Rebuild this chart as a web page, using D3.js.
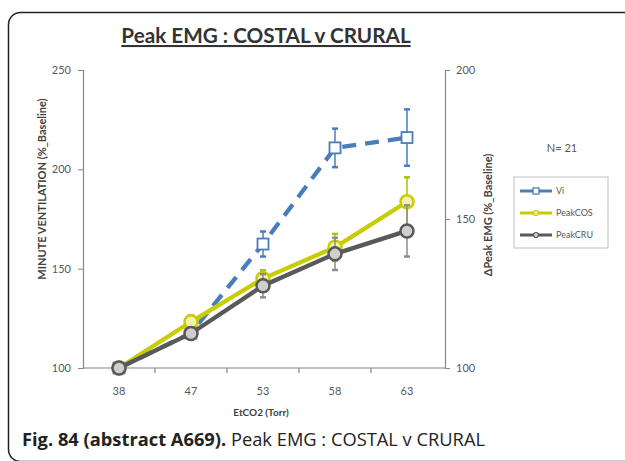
<!DOCTYPE html>
<html>
<head>
<meta charset="utf-8">
<script src="https://cdn.jsdelivr.net/npm/d3@7"></script>
<style>
  body { margin: 0; background: #fff; }
  svg { display: block; }
</style>
</head>
<body>
<svg width="625" height="461"></svg>
<script>
var categories = ['38', '47', '53', '58', '63'];

// minute ventilation, left axis
var viValues = [100, 117.6, 162.4, 210.8, 216];
var viErrors = [0, 3, 6.3, 9.7, 14.2];

// peak EMG, right axis
var cosValues = [100, 115.5, 130, 140.5, 155.8];
var cosErrors = [0, 2.2, 2.8, 4.5, 8.2];
var cruValues = [100, 111.6, 127.6, 138.3, 146];
var cruErrors = [0, 2, 3.9, 5.4, 8.6];

var leftTicks = [100, 150, 200, 250];
var rightTicks = [100, 150, 200];

var svg = d3.select('svg'),
    width = +svg.attr('width'),
    height = +svg.attr('height');

var axisColor = '#868686',
    labelColor = '#595959',
    chartFont = 'Lato, sans-serif';

// outer frame, right and bottom run off the picture
svg.append('rect')
    .attr('x', 8.5).attr('y', 12.5)
    .attr('width', 640).attr('height', 449)
    .attr('rx', 12)
    .attr('fill', 'none')
    .attr('stroke', '#222')
    .attr('stroke-width', 1.5);

var x = d3.scalePoint().domain(categories).range([83, 443]).padding(0.5);
var yLeft = d3.scaleLinear().domain([100, 250]).range([368, 70]);
var yRight = d3.scaleLinear().domain([100, 200]).range([368, 70]);

// title
svg.append('text')
    .attr('x', 266).attr('y', 43)
    .attr('text-anchor', 'middle')
    .attr('font-family', chartFont)
    .attr('font-weight', 'bold')
    .attr('font-size', 20.7)
    .attr('fill', '#333')
    .attr('text-decoration', 'underline')
    .text('Peak EMG : COSTAL v CRURAL');

// left axis
var leftAxis = svg.append('g')
    .attr('transform', 'translate(83,0)')
    .call(d3.axisLeft(yLeft).tickValues(leftTicks).tickSize(5).tickPadding(7));

// right axis
var rightAxis = svg.append('g')
    .attr('transform', 'translate(445,0)')
    .call(d3.axisRight(yRight).tickValues(rightTicks).tickSize(5).tickPadding(6));

// bottom axis: line, tick marks between categories, labels at centres
var bottom = svg.append('g').attr('class', 'xaxis');
bottom.append('line')
    .attr('x1', 83).attr('x2', 445)
    .attr('y1', yLeft(100)).attr('y2', yLeft(100));
var step = x.step();
bottom.selectAll('line.tick')
    .data(categories.slice(1))
    .enter().append('line')
        .attr('class', 'tick')
        .attr('x1', (d) => x(d) - step / 2)
        .attr('x2', (d) => x(d) - step / 2)
        .attr('y1', yLeft(100)).attr('y2', yLeft(100) + 5);
bottom.selectAll('text')
    .data(categories)
    .enter().append('text')
        .attr('x', (d) => x(d))
        .attr('y', yLeft(100) + 27)
        .attr('text-anchor', 'middle')
        .text((d) => d);

[leftAxis, rightAxis].forEach(function (g) {
    g.select('.domain').attr('stroke', axisColor).attr('stroke-width', 1.2);
    g.selectAll('.tick line').attr('stroke', axisColor);
    g.selectAll('.tick text')
        .attr('font-family', chartFont)
        .attr('font-size', 11)
        .attr('fill', labelColor);
});
bottom.selectAll('line').attr('stroke', axisColor).attr('stroke-width', 1.2);
bottom.selectAll('text')
    .attr('font-family', chartFont)
    .attr('font-size', 11)
    .attr('fill', labelColor);

// axis titles
svg.append('text')
    .attr('transform', 'translate(46,189) rotate(-90)')
    .attr('text-anchor', 'middle')
    .attr('font-family', chartFont)
    .attr('font-weight', 'bold')
    .attr('font-size', 11)
    .attr('fill', '#404040')
    .text('MINUTE VENTILATION (%_Baseline)');

svg.append('text')
    .attr('transform', 'translate(492,215) rotate(-90)')
    .attr('text-anchor', 'middle')
    .attr('font-family', chartFont)
    .attr('font-weight', 'bold')
    .attr('font-size', 11)
    .attr('fill', '#404040')
    .text('ΔPeak EMG (%_Baseline)');

svg.append('text')
    .attr('x', 261).attr('y', 416)
    .attr('text-anchor', 'middle')
    .attr('font-family', chartFont)
    .attr('font-weight', 'bold')
    .attr('font-size', 10)
    .attr('fill', '#404040')
    .text('EtCO2 (Torr)');

// series
var series = [
    { name: 'Vi', values: viValues, errors: viErrors, y: yLeft,
      color: '#4a7ebb', err: '#4a7ebb', fill: '#fff', marker: 'square', dash: '14,9' },
    { name: 'PeakCOS', values: cosValues, errors: cosErrors, y: yRight,
      color: '#c9cc00', err: '#99cc00', fill: '#f2f2b0', marker: 'circle', dash: null },
    { name: 'PeakCRU', values: cruValues, errors: cruErrors, y: yRight,
      color: '#595959', err: '#8c8c8c', fill: '#cfcfcf', marker: 'circle', dash: null }
];

series.forEach(function (s) {
    var pts = categories.map((c, i) => ({ c: c, v: s.values[i], e: s.errors[i] }));
    var g = svg.append('g').attr('class', 'series');

    g.append('path')
        .datum(pts)
        .attr('fill', 'none')
        .attr('stroke', s.color)
        .attr('stroke-width', 4.3)
        .attr('stroke-dasharray', s.dash)
        .attr('d', d3.line().x((d) => x(d.c)).y((d) => s.y(d.v)));

    var eb = g.selectAll('g.err')
        .data(pts.filter((d) => d.e > 0))
        .enter().append('g')
            .attr('stroke', s.err)
            .attr('stroke-width', 1.5);
    eb.append('line')
        .attr('x1', (d) => x(d.c)).attr('x2', (d) => x(d.c))
        .attr('y1', (d) => s.y(d.v - d.e)).attr('y2', (d) => s.y(d.v + d.e));
    eb.append('line')
        .attr('x1', (d) => x(d.c) - 3).attr('x2', (d) => x(d.c) + 3)
        .attr('y1', (d) => s.y(d.v + d.e)).attr('y2', (d) => s.y(d.v + d.e))
        .attr('stroke-width', 2.5);
    eb.append('line')
        .attr('x1', (d) => x(d.c) - 3).attr('x2', (d) => x(d.c) + 3)
        .attr('y1', (d) => s.y(d.v - d.e)).attr('y2', (d) => s.y(d.v - d.e))
        .attr('stroke-width', 2.5);

    if (s.marker === 'square') {
        g.selectAll('rect')
            .data(pts)
            .enter().append('rect')
                .attr('x', (d) => x(d.c) - 5.5)
                .attr('y', (d) => s.y(d.v) - 5.5)
                .attr('width', 11).attr('height', 11)
                .attr('fill', s.fill)
                .attr('stroke', s.color)
                .attr('stroke-width', 1.8);
    } else {
        g.selectAll('circle')
            .data(pts)
            .enter().append('circle')
                .attr('cx', (d) => x(d.c))
                .attr('cy', (d) => s.y(d.v))
                .attr('r', 6.5)
                .attr('fill', s.fill)
                .attr('stroke', s.color)
                .attr('stroke-width', 2.5);
    }
});

// N label
svg.append('text')
    .attr('x', 562).attr('y', 152)
    .attr('text-anchor', 'middle')
    .attr('font-family', chartFont)
    .attr('font-size', 11)
    .attr('fill', labelColor)
    .text('N= 21');

// legend
var legend = svg.append('g').attr('transform', 'translate(514,177)');
legend.append('rect')
    .attr('width', 94).attr('height', 71)
    .attr('fill', '#fff')
    .attr('stroke', '#bfbfbf');
var item = legend.selectAll('g.item')
    .data(series)
    .enter().append('g')
        .attr('transform', (d, i) => 'translate(6,' + (14 + i * 22) + ')');
item.append('line')
    .attr('x1', 0).attr('x2', 32)
    .attr('stroke', (d) => d.color)
    .attr('stroke-width', 3);
item.filter((d) => d.marker === 'square').append('rect')
    .attr('x', 13).attr('y', -3).attr('width', 6).attr('height', 6)
    .attr('fill', '#fff').attr('stroke', (d) => d.color).attr('stroke-width', 1.3);
item.filter((d) => d.marker === 'circle').append('circle')
    .attr('cx', 16).attr('r', 2.5)
    .attr('fill', (d) => d.fill).attr('stroke', (d) => d.color).attr('stroke-width', 1.2);
item.append('text')
    .attr('x', 36).attr('dy', '0.35em')
    .attr('font-family', chartFont)
    .attr('font-size', 9)
    .attr('fill', labelColor)
    .text((d) => d.name);

// figure caption
var caption = svg.append('text')
    .attr('x', 22).attr('y', 446)
    .attr('font-family', '"Open Sans", sans-serif')
    .attr('font-size', 18.3)
    .attr('fill', '#222');
caption.append('tspan').attr('font-weight', 'bold').text('Fig. 84 (abstract A669).');
caption.append('tspan').text(' Peak EMG : COSTAL v CRURAL');
</script>
</body>
</html>
